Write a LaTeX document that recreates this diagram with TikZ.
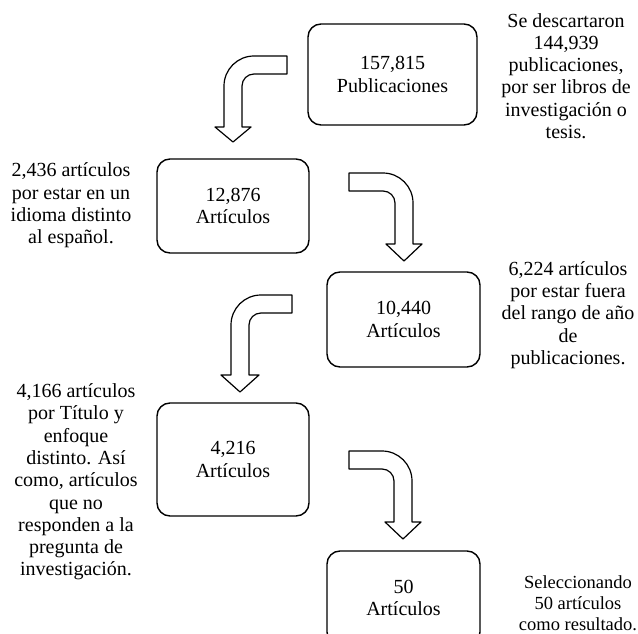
\documentclass[tikz,border=0pt]{standalone}
\usepackage{fontspec}
\setmainfont{Liberation Serif}
\begin{document}
\begin{tikzpicture}[x=1pt,y=-1pt,
  txt/.style={align=center,inner sep=0pt,font=\fontsize{20}{22.3}\selectfont},
  box/.style={draw,line width=1.4pt,rounded corners=13pt,inner sep=0pt,align=center,font=\fontsize{20}{22.3}\selectfont},
  barrow/.style={draw,line width=1.2pt,fill=white,line join=round}]
\clip (0,0) rectangle (638,634);
\useasboundingbox (0,0) rectangle (638,634);
% boxes
\node[box,minimum width=169pt,minimum height=101pt] (b1) at (392.5,74.5) {157,815\\Publicaciones};
\node[box,minimum width=152pt,minimum height=94pt] (b2) at (233,206) {12,876\\Artículos};
\node[box,minimum width=153pt,minimum height=95pt] (b3) at (403.5,319.5) {10,440\\Artículos};
\node[box,minimum width=152pt,minimum height=113pt] (b4) at (233,459.5) {4,216\\Artículos};
\node[box,minimum width=153pt,minimum height=94pt] (b5) at (403.5,598) {};
\begin{scope}
\clip (327,551) rectangle (480,616);
\node[txt] (b5t) at (b5.center) {50\\Artículos};
\end{scope}
% side texts
\node[txt] (n1) at (566,76) {Se descartaron\\144,939\\publicaciones,\\por ser libros de\\investigación o\\tesis.};
\node[txt] (n2) at (71,205.5) {2,436 artículos\\por estar en un\\idioma distinto\\al español.};
\node[txt] (n3) at (568,315) {6,224 artículos\\por estar fuera\\del rango de año\\de\\publicaciones.};
\node[txt] (n4) at (76,482) {4,166 artículos\\por Título y\\enfoque\\distinto. Así\\como, artículos\\que no\\responden a la\\pregunta de\\investigación.};
\node[txt,font=\fontsize{18.5}{21}\selectfont] (n5) at (578,603) {Seleccionando\\50 artículos\\como resultado.};
% bent block arrows (left turning)
\draw[barrow] (287,56) -- (254,56) arc[start angle=270,end angle=180,radius=30]
  -- (224,127) -- (215,127) -- (233,142) -- (251,127) -- (242,127) -- (242,86)
  arc[start angle=180,end angle=270,radius=12] -- (287,74) -- cycle;
\draw[barrow] (292,295) -- (261,295) arc[start angle=270,end angle=180,radius=30]
  -- (231,375) -- (221,375) -- (240,392) -- (259,375) -- (249,375) -- (249,325)
  arc[start angle=180,end angle=270,radius=12] -- (292,313) -- cycle;
% bent block arrows (right turning)
\draw[barrow] (349,173) -- (383,173) arc[start angle=270,end angle=360,radius=30]
  -- (413,244) -- (422,244) -- (404,261) -- (386,244) -- (395,244) -- (395,203)
  arc[start angle=0,end angle=-90,radius=12] -- (349,191) -- cycle;
\draw[barrow] (349,451) -- (382,451) arc[start angle=270,end angle=360,radius=30]
  -- (412,522) -- (421,522) -- (403,539) -- (385,522) -- (394,522) -- (394,481)
  arc[start angle=0,end angle=-90,radius=12] -- (349,469) -- cycle;
\end{tikzpicture}
\end{document}
